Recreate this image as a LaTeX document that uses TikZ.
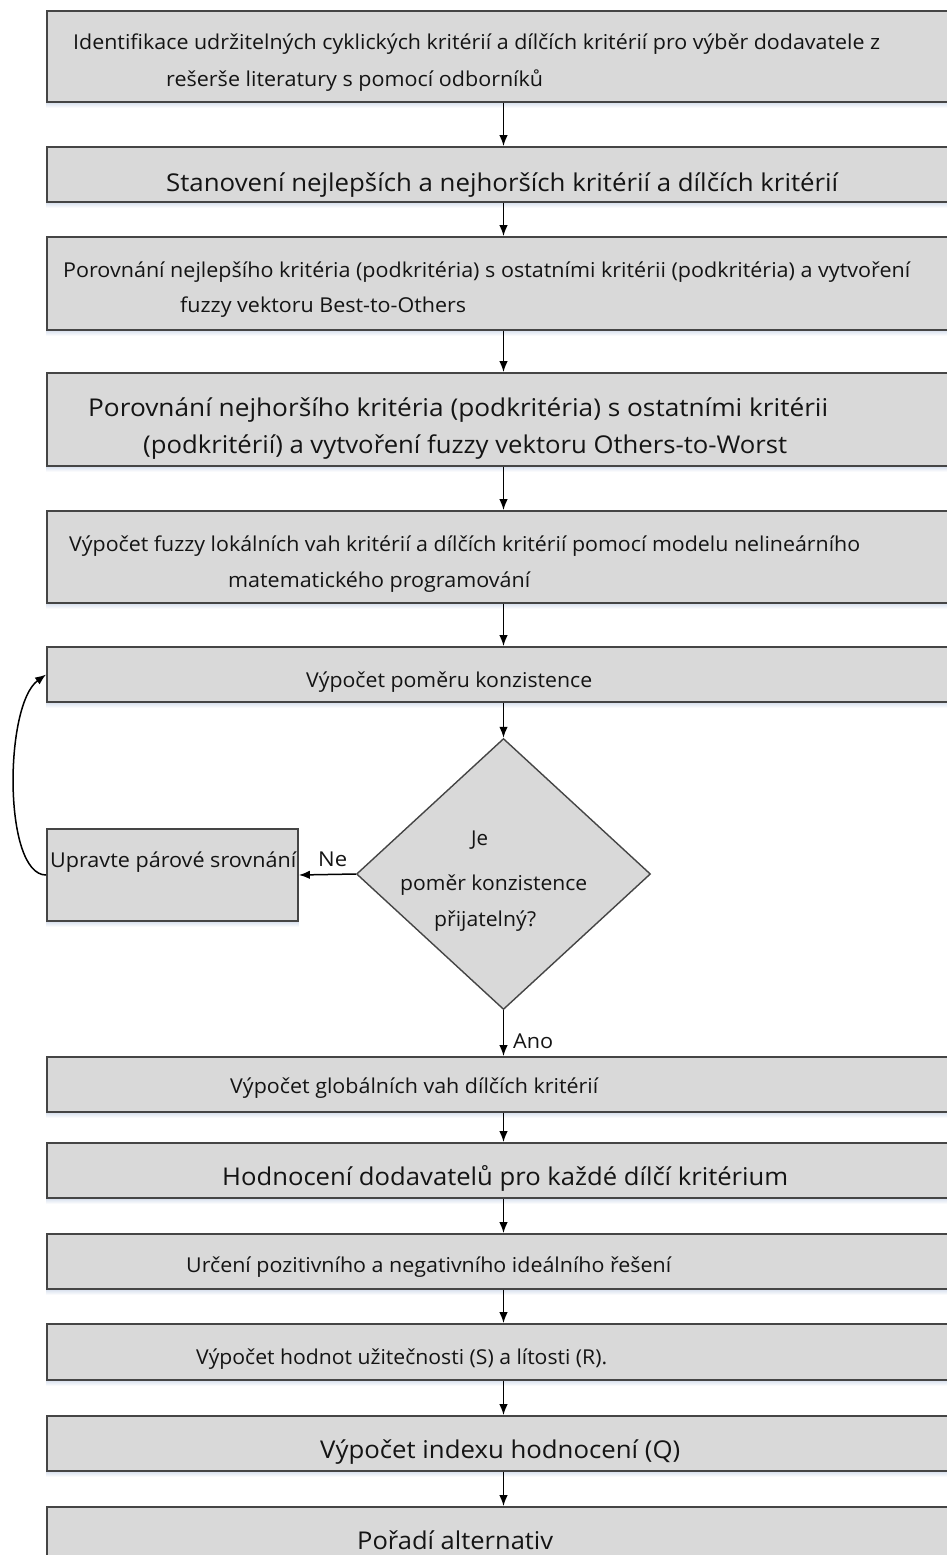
\documentclass[tikz,border=0pt]{standalone}
\usepackage{fontspec}
\setmainfont{Open Sans}
\usepackage{graphicx}
\usetikzlibrary{arrows.meta,shapes.geometric}

\definecolor{boxfill}{HTML}{D9D9D9}
\definecolor{boxline}{HTML}{454545}
\definecolor{inktext}{HTML}{141414}
\definecolor{haze}{HTML}{E2E8F2}

% set a line of text to an exact width, keeping its height
\newcommand{\fitw}[2]{\resizebox{#1pt}{\height}{#2}}

\begin{document}
\begin{tikzpicture}[x=1pt,y=-1pt,
  procbox/.style={draw=boxline, line width=1.8pt, fill=boxfill, rectangle,
    inner sep=0pt, minimum width=913pt},
  decision/.style={draw=boxline, line width=1.4pt, fill=boxfill, diamond,
    inner sep=0pt, minimum width=294pt, minimum height=271pt},
  txt/.style={inner sep=0pt, text=inktext, anchor=base west,
    font=\fontsize{20.5}{24}\selectfont},
  big/.style={txt, font=\fontsize{24.5}{29}\selectfont},
  flow/.style={draw=black, line width=1.5pt, -{Latex[length=11pt,width=8.5pt]}}
]
\useasboundingbox (0,0) rectangle (947,1555);
\clip (0,0) rectangle (947,1555);

% process boxes of the main column
\node[procbox, minimum height=91pt] (b1)  at (503.5,56.5)  {};
\node[procbox, minimum height=55pt] (b2)  at (503.5,174.5) {};
\node[procbox, minimum height=93pt] (b3)  at (503.5,283.5) {};
\node[procbox, minimum height=93pt] (b4)  at (503.5,419.5) {};
\node[procbox, minimum height=92pt] (b5)  at (503.5,557)   {};
\node[procbox, minimum height=55pt] (b6)  at (503.5,674.5) {};
\node[decision] (dia) at (503.5,874) {};
\node[procbox, minimum width=251pt, minimum height=92pt] (side) at (172.5,875) {};
\node[procbox, minimum height=55pt] (b7)  at (503.5,1084.5) {};
\node[procbox, minimum height=55pt] (b8)  at (503.5,1170.5) {};
\node[procbox, minimum height=55pt] (b9)  at (503.5,1261.5) {};
\node[procbox, minimum height=56pt] (b10) at (503.5,1352)   {};
\node[procbox, minimum height=55pt] (b11) at (503.5,1443.5) {};
\node[procbox, minimum height=93pt] (b12) at (503.5,1553.5) {};

% faint haze under the boxes
\foreach \n in {b1,b2,b3,b4,b5,b6,side,b7,b8,b9,b10,b11}{
  \shade[top color=haze, bottom color=white]
    ([yshift=-0.9pt]\n.south west) rectangle ([yshift=-5pt]\n.south east);
}

% box texts
\node[txt] (t1a) at (73,50)  {\fitw{807}{Identifikace udržitelných cyklických kritérií a dílčích kritérií pro výběr dodavatele z}};
\node[txt] (t1b) at (166,86) {\fitw{377}{rešerše literatury s pomocí odborníků}};
\node[big] (t2)  at (166,191) {\fitw{672}{Stanovení nejlepších a nejhorších kritérií a dílčích kritérií}};
\node[txt] (t3a) at (63,277)  {\fitw{847}{Porovnání nejlepšího kritéria (podkritéria) s ostatními kritérii (podkritéria) a vytvoření}};
\node[txt] (t3b) at (180,312) {\fitw{286}{fuzzy vektoru Best-to-Others}};
\node[big] (t4a) at (88,416)  {\fitw{740}{Porovnání nejhoršího kritéria (podkritéria) s ostatními kritérii}};
\node[big] (t4b) at (143,453) {\fitw{644}{(podkritérií) a vytvoření fuzzy vektoru Others-to-Worst}};
\node[txt] (t5a) at (69,551)  {\fitw{791}{Výpočet fuzzy lokálních vah kritérií a dílčích kritérií pomocí modelu nelineárního}};
\node[txt] (t5b) at (228,587) {\fitw{302}{matematického programování}};
\node[txt] (t6)  at (306,687) {\fitw{286}{Výpočet poměru konzistence}};
\node[txt] (dq1) at (471,845) {\fitw{17}{Je}};
\node[txt] (dq2) at (400,890) {\fitw{187}{poměr konzistence}};
\node[txt] (dq3) at (434,926) {\fitw{102}{přijatelný?}};
\node[txt] (ts)  at (50,867)  {\fitw{246}{Upravte párové srovnání}};
\node[txt] (lne) at (318,866) {\fitw{29}{Ne}};
\node[txt] (lano) at (513,1048) {\fitw{40}{Ano}};
\node[txt] (t7)  at (230,1093) {\fitw{368}{Výpočet globálních vah dílčích kritérií}};
\node[big] (t8)  at (222,1185) {\fitw{566}{Hodnocení dodavatelů pro každé dílčí kritérium}};
\node[txt] (t9)  at (186,1272) {\fitw{485}{Určení pozitivního a negativního ideálního řešení}};
\node[txt] (t10) at (196,1364) {\fitw{411}{Výpočet hodnot užitečnosti (S) a lítosti (R).}};
\node[big] (t11) at (320,1458) {\fitw{360}{Výpočet indexu hodnocení (Q)}};
\node[big] (t12) at (357,1549) {\fitw{196}{Pořadí alternativ}};

% connectors
\draw[flow] (b1) -- (b2);
\draw[flow] (b2) -- (b3);
\draw[flow] (b3) -- (b4);
\draw[flow] (b4) -- (b5);
\draw[flow] (b5) -- (b6);
\draw[flow] (b6) -- (dia);
\draw[flow] (dia.west) -- (side.east);
\draw[flow] (side.west) .. controls (3,875) and (4,705) .. (b6.west);
\draw[flow] (dia.south) -- (b7.north);
\draw[flow] (b7) -- (b8);
\draw[flow] (b8) -- (b9);
\draw[flow] (b9) -- (b10);
\draw[flow] (b10) -- (b11);
\draw[flow] (b11) -- (b12);
\end{tikzpicture}
\end{document}
